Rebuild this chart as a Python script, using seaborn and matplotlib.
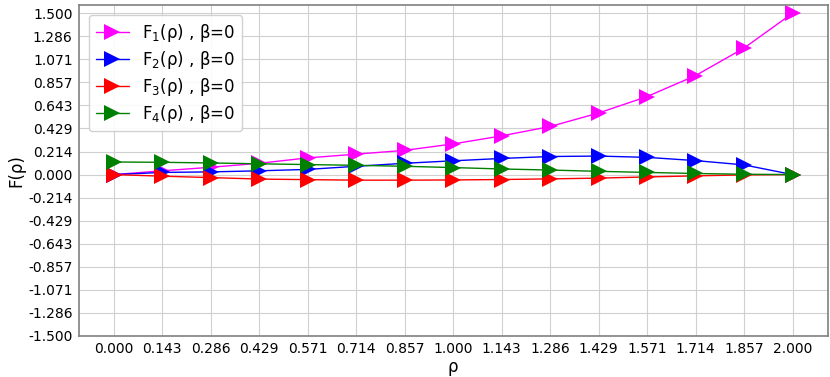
import numpy as np
import pandas as pd
import seaborn as sns
import matplotlib.pyplot as plt

# values
rho = [0.000, 0.143, 0.286, 0.429, 0.571, 0.714, 0.857, 1.000,
       1.143, 1.286, 1.429, 1.571, 1.714, 1.857, 2.000]
F1 = [0.0, 0.035, 0.068, 0.105, 0.155, 0.19, 0.225, 0.285,
      0.36, 0.447, 0.573, 0.725, 0.92, 1.176, 1.5]
F2 = [0.0, 0.02, 0.025, 0.035, 0.048, 0.077, 0.105, 0.128,
      0.15, 0.168, 0.172, 0.16, 0.13, 0.09, 0.0]
F3 = [0.0, -0.015, -0.028, -0.042, -0.047, -0.052, -0.052, -0.05,
      -0.046, -0.04, -0.033, -0.022, -0.012, -0.003, 0.0]
F4 = [0.117, 0.114, 0.108, 0.1, 0.093, 0.086, 0.077, 0.065,
      0.052, 0.042, 0.03, 0.02, 0.01, 0.003, 0.0]
labels = ['F$_1$(ρ) , β=0', 'F$_2$(ρ) , β=0', 'F$_3$(ρ) , β=0', 'F$_4$(ρ) , β=0']
colors = ['#ff00ff', '#0000ff', '#ff0000', '#008000']

df = pd.concat([pd.DataFrame({'rho': rho, 'F': f, 'series': lab})
                for f, lab in zip([F1, F2, F3, F4], labels)], ignore_index=True)

sns.set_style('whitegrid', {'grid.color': '#d0d0d0', 'axes.edgecolor': '#808080',
                            'text.color': 'black', 'axes.labelcolor': 'black',
                            'xtick.color': 'black', 'ytick.color': 'black'})
fig = plt.figure(figsize=(8.3, 3.77), dpi=100)
ax = fig.add_axes([0.095, 0.109, 0.902, 0.878])

sns.lineplot(data=df, x='rho', y='F', hue='series', palette=colors, ax=ax,
             marker='>', markersize=12, markeredgewidth=0, linewidth=1)

xt = np.linspace(0, 2, 15)
yt = np.linspace(-1.5, 1.5, 15)
ax.set_xticks(xt)
ax.set_xticklabels([f'{v:.3f}' for v in xt], fontsize=10)
ax.set_yticks(yt)
ax.set_yticklabels([f'{v:.3f}' for v in yt], fontsize=10)
ax.set_xlim(-0.103, 2.103)
ax.set_ylim(-1.5, 1.5775)
ax.set_xlabel('ρ', fontsize=12, labelpad=1)
ax.set_ylabel('F(ρ)', fontsize=12, labelpad=2)
ax.tick_params(axis='both', length=2.5, pad=2, color='#808080')
for s in ax.spines.values():
    s.set_linewidth(1.2)

ax.legend(loc='upper left', fontsize=12, title=None, framealpha=0.9,
          labelspacing=0.3, borderaxespad=0.6)

plt.savefig('out.png', dpi=100)
